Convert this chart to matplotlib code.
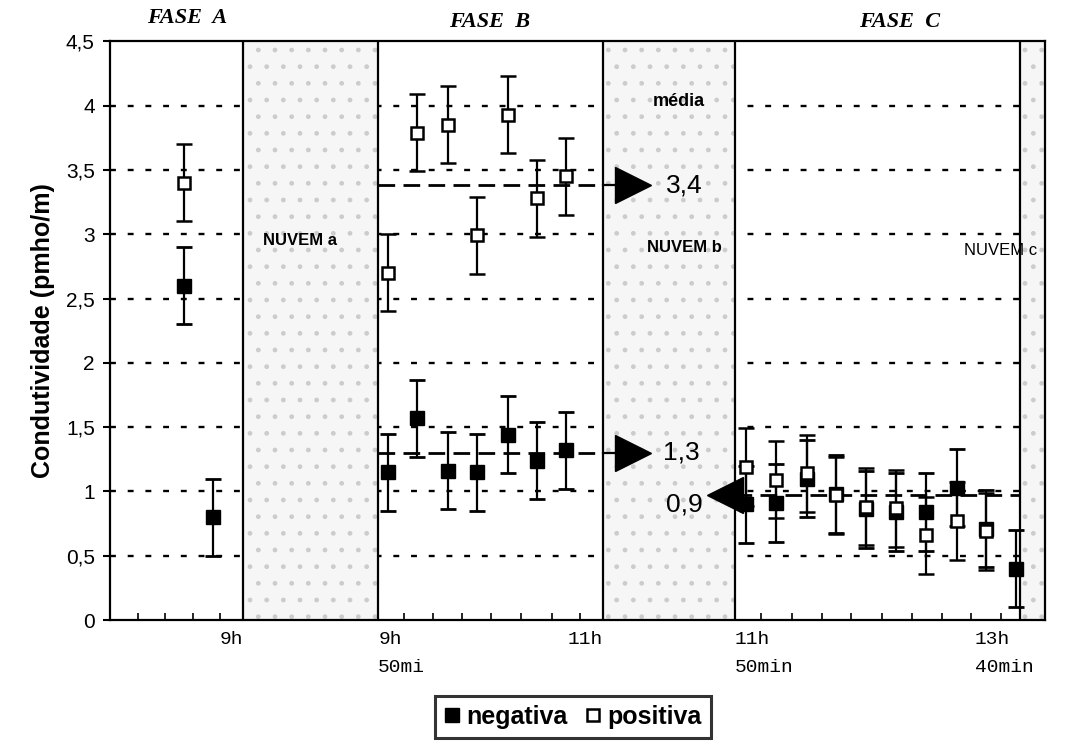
import numpy as np
import matplotlib.pyplot as plt
from matplotlib.lines import Line2D

# limites das fases / nuvens (posição no eixo x)
limites = [4.84, 9.75, 17.93, 22.73, 33.09]
nuvens = [(4.84, 9.75), (17.93, 22.73), (33.09, 34.0)]
nuvem_txt = ['NUVEM a', 'NUVEM b', 'NUVEM c']
nuvem_xy = [(6.9, 2.95), (20.9, 2.9), (32.4, 2.87)]

# fase A
xa_neg = [2.69, 3.75]
ya_neg = [2.6, 0.8]
xa_pos = [2.69]
ya_pos = [3.4]

# fase B
xb = [10.1, 11.16, 12.29, 13.35, 14.47, 15.53, 16.58]
yb_neg = [1.15, 1.57, 1.16, 1.15, 1.44, 1.24, 1.32]
yb_pos = [2.70, 3.79, 3.85, 2.99, 3.93, 3.28, 3.45]

# fase C
xc = [23.13, 24.22, 25.35, 26.4, 27.49, 28.58, 29.67, 30.8, 31.85, 32.95]
yc_neg = [0.90, 0.91, 1.10, 0.98, 0.86, 0.84, 0.84, 1.03, 0.71, 0.40]
yc_pos = [1.19, 1.09, 1.14, 0.97, 0.88, 0.87, 0.66, 0.77, 0.69, np.nan]

erro = 0.3

# médias
media_b_pos = 3.38
media_b_neg = 1.3
media_c = 0.97

xticks_menores = [1, 2, 3, 4, 10.7, 11.74, 12.8, 13.85, 14.94, 16.06, 17.1,
                  23.67, 24.8, 25.9, 26.95, 28.07, 29.17, 30.25, 31.3, 32.4]
xlabels = ['9h', '9h\n50mi', '11h', '11h\n50min', '13h\n40min']
xlabel_pos = [4.84, 9.75, 17.93, 22.73, 31.45]
xlabel_ha = ['right', 'left', 'right', 'left', 'left']

plt.rcParams['font.family'] = ['Liberation Sans', 'DejaVu Sans']

fig = plt.figure(figsize=(10.69, 7.51), dpi=100)
ax = fig.add_axes([0.103, 0.1744, 0.8745, 0.7706])
ax.set_xlim(0, 34)
ax.set_ylim(0, 4.5)

# linhas de grade pontilhadas
for y in np.arange(0.5, 4.01, 0.5):
    ax.axhline(y, color='black', lw=1.7, ls=(0, (2.5, 5)), zorder=1)

# nuvens
for (a, b) in nuvens:
    ax.axvspan(a, b, facecolor='#f6f6f6', edgecolor='#cccccc', hatch='.',
               lw=0, zorder=2)
for x in limites:
    ax.axvline(x, color='black', lw=1.6, zorder=3)

for txt, (x, y) in zip(nuvem_txt, nuvem_xy):
    ax.text(x, y, txt, ha='center', va='center', fontsize=12,
            fontweight='bold' if txt != 'NUVEM c' else 'normal', zorder=6)

ekw = dict(ls='none', ecolor='black', elinewidth=1.6, capsize=6, capthick=2,
           zorder=5)
neg_kw = dict(marker='s', ms=10, mfc='black', mec='black')
pos_kw = dict(marker='s', ms=8.5, mfc='white', mec='black', mew=1.8)

ax.errorbar(xa_neg, ya_neg, yerr=erro, **ekw, **neg_kw)
ax.errorbar(xa_pos, ya_pos, yerr=erro, **ekw, **pos_kw)
ax.errorbar(xb, yb_neg, yerr=erro, **ekw, **neg_kw)
ax.errorbar(xb, yb_pos, yerr=erro, **ekw, **pos_kw)
ax.errorbar(xc, yc_neg, yerr=erro, **ekw, **neg_kw)
ax.errorbar(xc, yc_pos, yerr=erro, **ekw, **pos_kw)

# linhas das médias + setas
for m in [media_b_pos, media_b_neg]:
    ax.plot([limites[1], limites[2]], [m, m], color='black', lw=2,
            ls=(0, (6, 3)), zorder=4)
    ax.plot([limites[2], 19.0], [m, m], color='black', lw=1.6, zorder=4)
    ax.plot(19.0, m, marker='>', ms=26, color='black', zorder=6)
ax.plot([limites[3], limites[4]], [media_c, media_c], color='black', lw=2,
        ls=(0, (6, 3)), zorder=4)
ax.plot(22.35, media_c, marker='<', ms=26, color='black', zorder=6)

ax.text(20.2, media_b_pos, '3,4', fontsize=19, va='center', ha='left', zorder=6)
ax.text(20.1, media_b_neg, '1,3', fontsize=19, va='center', ha='left', zorder=6)
ax.text(20.2, 0.9, '0,9', fontsize=19, va='center', ha='left', zorder=6)
ax.text(20.7, 4.03, 'média', fontsize=13, fontweight='bold', ha='center',
        va='center', zorder=6)

# eixos
yt = np.arange(0, 4.51, 0.5)
ax.set_yticks(yt)
ax.set_yticklabels([('%g' % v).replace('.', ',') for v in yt], fontsize=15)
ax.tick_params(axis='y', direction='out', length=5, width=1.5, pad=6)
ax.set_xticks([])
ax.set_xticks(xticks_menores, minor=True)
ax.tick_params(axis='x', which='minor', direction='in', length=5, width=1.2)
for s in ax.spines.values():
    s.set_linewidth(1.6)

for lab, x, ha in zip(xlabels, xlabel_pos, xlabel_ha):
    ax.annotate(lab, (x, 0), xycoords=('data', 'axes fraction'),
                xytext=(0, -8), textcoords='offset points', ha=ha, va='top',
                family='Liberation Mono', fontsize=14, linespacing=1.8)

ax.set_ylabel('Condutividade (pmho/m)', fontsize=18, fontweight='bold',
              labelpad=8)

fkw = dict(family='Liberation Serif', fontweight='bold', style='italic',
           fontsize=16, ha='center', va='center', transform=fig.transFigure)
fig.text(187 / 1069, 1 - 18 / 751, 'FASE  A', **fkw)
fig.text(490 / 1069, 1 - 22 / 751, 'FASE  B', **fkw)
fig.text(900 / 1069, 1 - 22 / 751, 'FASE  C', **fkw)

handles = [Line2D([], [], ls='none', **neg_kw), Line2D([], [], ls='none', **pos_kw)]
leg = fig.legend(handles, ['negativa', 'positiva'], loc='center',
                 bbox_to_anchor=(573 / 1069, 1 - 717 / 751), ncol=2,
                 fancybox=False, edgecolor='black', handlelength=0.6,
                 handletextpad=0.3, columnspacing=0.7, borderpad=0.35,
                 borderaxespad=0, prop={'weight': 'bold', 'size': 18})
leg.get_frame().set_linewidth(2.2)

fig.savefig('out.png', dpi=100)
